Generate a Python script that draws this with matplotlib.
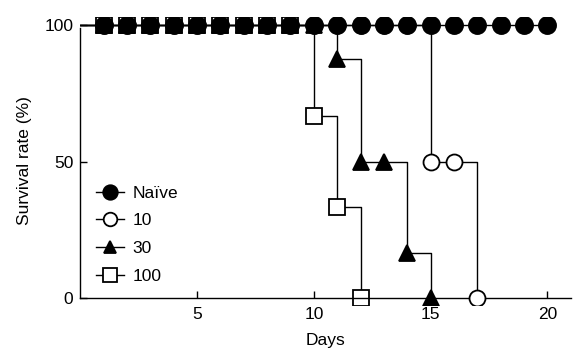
import numpy as np
import matplotlib
matplotlib.use("Agg")
import matplotlib.pyplot as plt

plt.rcParams['font.family'] = ['Liberation Sans', 'DejaVu Sans']

# survival curves (day 0 = start, markers from day 1 on)
naive_days = list(range(0, 21))
naive_surv = [100] * 21

d10_days = list(range(0, 18))
d10_surv = [100] * 15 + [50, 50, 0]

d30_days = list(range(0, 16))
d30_surv = [100] * 11 + [87.5, 50, 50, 16.7, 0]

d100_days = list(range(0, 13))
d100_surv = [100] * 10 + [66.7, 33.3, 0]

series = [
    ("100", d100_days, d100_surv, 's', 'white', 11.3),
    ("30", d30_days, d30_surv, '^', 'black', 11),
    ("10", d10_days, d10_surv, 'o', 'white', 11.5),
    ("Naïve", naive_days, naive_surv, 'o', 'black', 12.3),
]

fig = plt.figure(figsize=(5.83, 3.63), dpi=100)
ax = fig.add_axes([0.1377, 0.1595, 0.979 - 0.1377, 0.9537 - 0.1595])

handles = {}
for i, (lab, x, y, m, fc, ms) in enumerate(series):
    ln, = ax.plot(x, y, drawstyle='steps-post', color='black', lw=1.0,
                  marker=m, markersize=ms, markerfacecolor=fc,
                  markeredgecolor='black', markeredgewidth=1.3,
                  markevery=slice(1, None), zorder=2 + i)
    handles[lab] = ln

ax.set_xlim(0, 21)
ax.set_ylim(-2.5, 103)
ax.spines['top'].set_visible(False)
ax.spines['right'].set_visible(False)
ax.spines['bottom'].set_position(('data', 0))
ax.spines['left'].set_bounds(0, 99)
for s in ('left', 'bottom'):
    ax.spines[s].set_linewidth(1.0)

ax.set_xticks([5, 10, 15, 20])
ax.set_yticks([0, 50, 100])
ax.tick_params(direction='in', length=5, width=1.0, labelsize=12.5, pad=6)
ax.tick_params(axis='y', pad=5)

ax.set_xlabel("Days", fontsize=12.5, labelpad=8)
ax.set_ylabel("Survival rate (%)", fontsize=12.5, labelpad=9)

order = ["Naïve", "10", "30", "100"]
leg = ax.legend([handles[k] for k in order], order, loc='lower left',
                bbox_to_anchor=(0.0, 0.02), frameon=False, fontsize=12.5,
                handlelength=1.6, handletextpad=0.5, labelspacing=0.72,
                markerscale=0.85)

fig.savefig("out.png", dpi=100)
